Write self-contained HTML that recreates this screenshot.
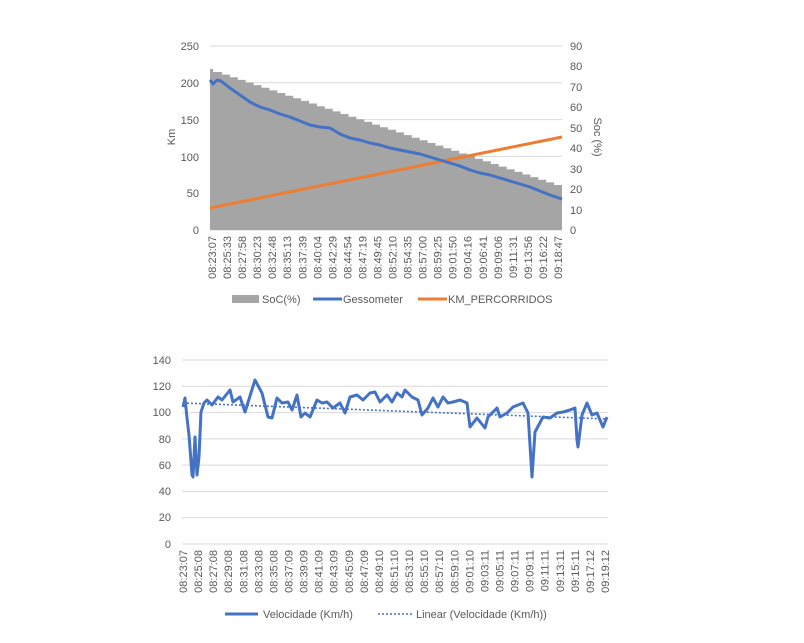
<!DOCTYPE html>
<html><head><meta charset="utf-8"><style>
html,body{margin:0;padding:0;background:#fff;}
svg{display:block;font-family:"Liberation Sans",sans-serif;}
text{fill:#595959;font-size:11px;}
</style></head><body>
<svg width="804" height="643" viewBox="0 0 804 643" xmlns="http://www.w3.org/2000/svg">
<g stroke="#d9d9d9" stroke-width="1">
<line x1="210" x2="562" y1="46" y2="46"/><line x1="210" x2="562" y1="82.8" y2="82.8"/>
<line x1="210" x2="562" y1="119.6" y2="119.6"/><line x1="210" x2="562" y1="156.4" y2="156.4"/>
<line x1="210" x2="562" y1="193.2" y2="193.2"/><line x1="210" x2="562" y1="230" y2="230"/>
</g>
<path id="soc" fill="#a5a5a5" d=""/>
<polyline fill="none" stroke="#ED7D31" stroke-width="3" points="210,208 562,137"/>
<polyline fill="none" stroke="#4472C4" stroke-width="3" stroke-linejoin="round" points="210,80 213,84 217,80 221,81 230,88 240,95 250,102 260,107 270,110 280,114 290,117 300,121 310,125 320,127 330,128 340,134 350,138 360,140 370,143 380,145 390,148 400,150 410,152 420,154 430,157 440,160 450,163 460,166 470,170 480,173 490,175 500,178 510,181 520,184 530,187 540,191 550,195 562,199"/>
<g text-anchor="end">
<text x="199" y="50">250</text><text x="199" y="87">200</text><text x="199" y="124">150</text>
<text x="199" y="161">100</text><text x="199" y="197">50</text><text x="199" y="234">0</text>
</g>
<g text-anchor="start">
<text x="570" y="50">90</text><text x="570" y="70">80</text><text x="570" y="91">70</text>
<text x="570" y="111">60</text><text x="570" y="132">50</text><text x="570" y="152">40</text>
<text x="570" y="173">30</text><text x="570" y="193">20</text><text x="570" y="214">10</text><text x="570" y="234">0</text>
</g>
<text transform="translate(175,137) rotate(-90)" text-anchor="middle">Km</text>
<text transform="translate(594,137) rotate(90)" text-anchor="middle">Soc (%)</text>
<g id="l1" text-anchor="end"></g>
<rect x="232" y="295" width="27" height="8" fill="#a5a5a5"/><text x="262" y="303">SoC(%)</text>
<line x1="313" x2="342" y1="299" y2="299" stroke="#4472C4" stroke-width="3"/><text x="343" y="303">Gessometer</text>
<line x1="418" x2="447" y1="299" y2="299" stroke="#ED7D31" stroke-width="3"/><text x="448" y="303">KM_PERCORRIDOS</text>

<g stroke="#d9d9d9" stroke-width="1">
<line x1="182" x2="608" y1="360" y2="360"/><line x1="182" x2="608" y1="386.3" y2="386.3"/>
<line x1="182" x2="608" y1="412.6" y2="412.6"/><line x1="182" x2="608" y1="438.9" y2="438.9"/>
<line x1="182" x2="608" y1="465.1" y2="465.1"/><line x1="182" x2="608" y1="491.4" y2="491.4"/>
<line x1="182" x2="608" y1="517.7" y2="517.7"/><line x1="182" x2="608" y1="544" y2="544"/>
</g>
<g text-anchor="end">
<text x="171" y="364">140</text><text x="171" y="390">120</text><text x="171" y="416">100</text>
<text x="171" y="443">80</text><text x="171" y="469">60</text><text x="171" y="495">40</text>
<text x="171" y="521">20</text><text x="171" y="548">0</text>
</g>
<line x1="183" y1="403" x2="607" y2="419" stroke="#4472C4" stroke-width="1.6" stroke-dasharray="2,2"/>
<polyline fill="none" stroke="#4472C4" stroke-width="3" stroke-linejoin="round" points="183,407 185,398 187,418 189,435 192,475 193,477 195,437 197,475 199,457 201,412 204,403 207,400 212,405 218,397 222,400 230,390 233,402 240,397 245,412 255,380 262,393 268,417 272,418 277,398 282,403 288,402 292,410 297,395 301,417 305,413 310,417 317,400 322,403 327,402 333,408 340,403 345,413 350,397 357,395 363,400 370,393 375,392 380,402 387,395 392,402 397,393 402,397 405,390 412,397 418,400 422,415 428,408 433,398 438,407 443,397 448,403 453,402 460,400 467,403 470,427 477,418 485,428 488,417 497,408 500,417 507,413 513,407 518,405 523,403 528,413 532,477 535,432 543,417 550,418 557,413 563,412 570,410 575,408 577,440 578,447 582,415 587,403 592,415 597,413 603,427 607,417"/>
<g id="l2" text-anchor="end"></g>
<line x1="225" x2="258" y1="614" y2="614" stroke="#4472C4" stroke-width="3"/><text x="263" y="618">Velocidade (Km/h)</text>
<line x1="378" x2="412" y1="614" y2="614" stroke="#4472C4" stroke-width="1.6" stroke-dasharray="2,2"/><text x="416" y="618">Linear (Velocidade (Km/h))</text>
</svg>
<script>
var d="M210,230 L210,69 L213,69 L213,72 L222,72";
var x=222,y=72,n=43,dx=(562-222)/n,dy=(185-72)/n;
for(var i=0;i<n;i++){y+=dy;d+=" L"+x.toFixed(1)+","+y.toFixed(1);x+=dx;d+=" L"+x.toFixed(1)+","+y.toFixed(1);}
d+=" L562,230 Z";document.getElementById("soc").setAttribute("d",d);
function lab(id,arr,x0,x1,y){var g=document.getElementById(id),s=(x1-x0)/(arr.length-1);
arr.forEach(function(t,i){var e=document.createElementNS("http://www.w3.org/2000/svg","text");
var xx=x0+i*s+4;e.setAttribute("transform","translate("+xx+","+y+") rotate(-90)");e.textContent=t;g.appendChild(e);});}
lab("l1",["08:23:07","08:25:33","08:27:58","08:30:23","08:32:48","08:35:13","08:37:39","08:40:04","08:42:29","08:44:54","08:47:19","08:49:45","08:52:10","08:54:35","08:57:00","08:59:25","09:01:50","09:04:16","09:06:41","09:09:06","09:11:31","09:13:56","09:16:22","09:18:47"],212,558,236);
lab("l2",["08:23:07","08:25:08","08:27:08","08:29:08","08:31:08","08:33:08","08:35:08","08:37:09","08:39:09","08:41:09","08:43:09","08:45:09","08:47:09","08:49:10","08:51:10","08:53:10","08:55:10","08:57:10","08:59:10","09:01:10","09:03:11","09:05:11","09:07:11","09:09:11","09:11:11","09:13:11","09:15:11","09:17:12","09:19:12"],183,605,550);
</script>
</body></html>
